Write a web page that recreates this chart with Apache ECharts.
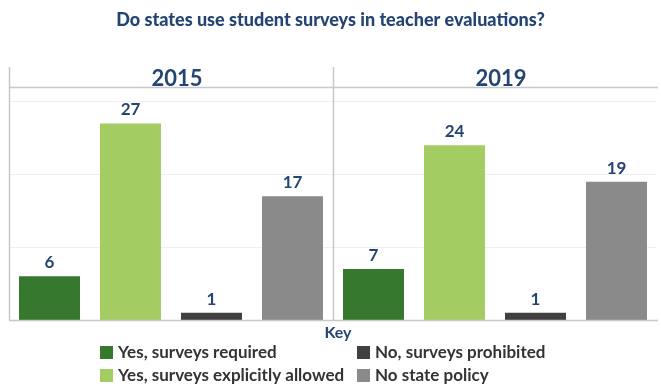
<!DOCTYPE html>
<html><head><meta charset="utf-8">
<script src="https://cdn.jsdelivr.net/npm/echarts@6/dist/echarts.min.js"></script>
<style>html,body{margin:0;padding:0;background:#fff}#c{width:661px;height:390px}</style>
</head><body><div id="c"></div>
<script>
var years = ['2015', '2019'];
var categories = ['Yes, surveys required', 'Yes, surveys explicitly allowed', 'No, surveys prohibited', 'No state policy'];
var values2015 = [6, 27, 1, 17];
var values2019 = [7, 24, 1, 19];
var colors = ['#35782e', '#a3cd62', '#404040', '#8a8a8a'];

var navy = '#244573';
var font = 'Lato';
var chart = echarts.init(document.getElementById('c'));
var panelVals = [values2015, values2019];
var series = [];
categories.forEach(function (cat, ci) {
  [0, 1].forEach(function (p) {
    var d = categories.map(function (c, k) { return k === ci ? panelVals[p][k] : '-'; });
    series.push({
      name: cat, type: 'bar', xAxisIndex: p, yAxisIndex: p, stack: 'p' + p,
      data: d, barWidth: 61, itemStyle: { color: colors[ci] },
      label: { show: true, position: 'top', distance: 5, color: navy, fontFamily: font, fontWeight: 'bold', fontSize: 17 }
    });
  });
});
var grids = [{ left: 9, top: 87, width: 324, height: 233 }, { left: 333, top: 87, width: 324, height: 233 }];
var xAxes = [0, 1].map(function (p) {
  return { type: 'category', gridIndex: p, data: categories, axisLine: { show: false }, axisTick: { show: false }, axisLabel: { show: false } };
});
var yAxes = [0, 1].map(function (p) {
  return { type: 'value', gridIndex: p, min: 0, max: 32, interval: 10, axisLine: { show: false }, axisTick: { show: false }, axisLabel: { show: false },
    splitLine: { lineStyle: { color: '#efefef', width: 1 } } };
});
var legendPos = [[100, 344], [100, 367], [357, 344], [357, 367]];
var legends = categories.map(function (cat, i) {
  return { data: [cat], left: legendPos[i][0], top: legendPos[i][1], itemWidth: 13, itemHeight: 13, itemGap: 5, icon: 'rect', padding: 0,
    textStyle: { color: '#333', fontFamily: font, fontSize: 17, fontWeight: 'bold' }, selectedMode: false };
});
var lineStyle = { stroke: '#c8c8c8', lineWidth: 1.5 };
chart.setOption({
  animation: false,
  title: [
    { text: 'Do states use student surveys in teacher evaluations?', left: 'center', top: 6, textStyle: { color: navy, fontFamily: font, fontWeight: 900, fontSize: 18 } },
    { text: years[0], left: 172, textAlign: 'center', top: 63, textStyle: { color: navy, fontFamily: font, fontWeight: 'bold', fontSize: 22 } },
    { text: years[1], left: 496, textAlign: 'center', top: 63, textStyle: { color: navy, fontFamily: font, fontWeight: 'bold', fontSize: 22 } },
    { text: 'Key', left: 333, textAlign: 'center', top: 320, textStyle: { color: navy, fontFamily: font, fontWeight: 'bold', fontSize: 16 } }
  ],
  legend: legends,
  grid: grids, xAxis: xAxes, yAxis: yAxes, series: series,
  graphic: [
    { type: 'line', shape: { x1: 9.5, y1: 67, x2: 9.5, y2: 320 }, style: lineStyle, z: 10 },
    { type: 'line', shape: { x1: 333.5, y1: 67, x2: 333.5, y2: 320 }, style: lineStyle, z: 10 },
    { type: 'line', shape: { x1: 9, y1: 87.5, x2: 658, y2: 87.5 }, style: lineStyle, z: 10 },
    { type: 'line', shape: { x1: 9, y1: 320.5, x2: 658, y2: 320.5 }, style: lineStyle, z: 10 }
  ]
});
</script></body></html>
